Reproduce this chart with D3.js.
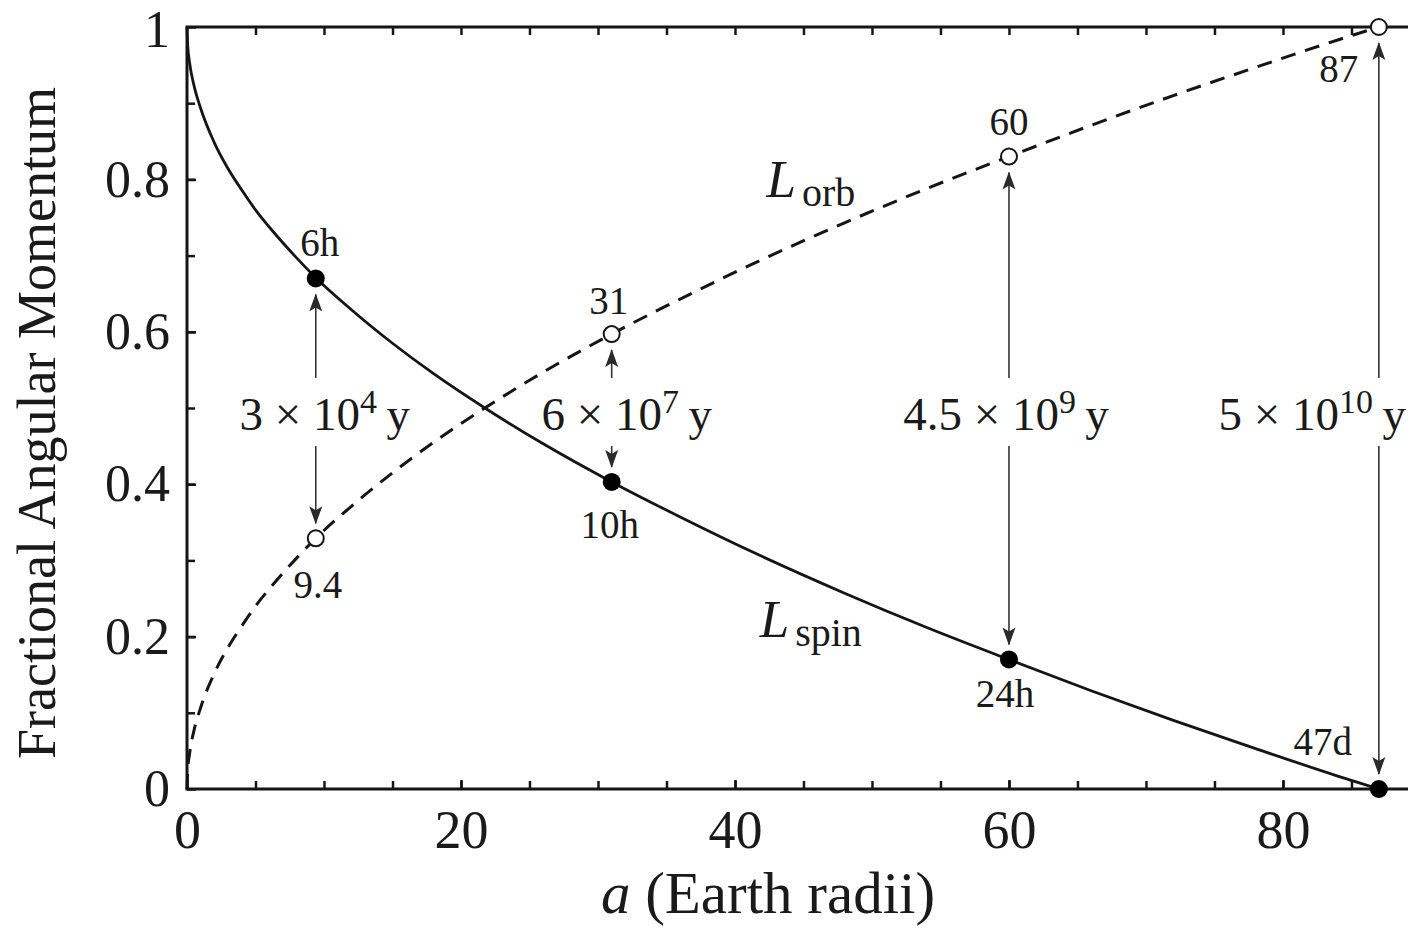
<!DOCTYPE html>
<html>
<head>
<meta charset="utf-8">
<script src="https://cdn.jsdelivr.net/npm/d3@7"></script>
<style>
  body { margin: 0; background: #fff; }
  text { font-family: "Liberation Serif", "Times New Roman", serif; fill: #1a1a1a; }
</style>
</head>
<body>
<svg id="chart" width="1408" height="928"></svg>
<script>
// semi-major axis samples (Earth radii) and the two curves
var aGrid = [0, 0.05, 0.2, 0.5, 1, 2, 3, 4, 5, 6.5, 8, 9.4, 12, 15, 18, 22, 26, 31, 36, 42, 48, 54, 60, 66, 72, 78, 84, 87]
var lSpin = [1, 0.976, 0.952, 0.924, 0.893, 0.848, 0.814, 0.786, 0.760, 0.727, 0.697, 0.671, 0.629, 0.585, 0.545, 0.497, 0.453, 0.403, 0.357, 0.305, 0.257, 0.212, 0.170, 0.129, 0.090, 0.053, 0.017, 0]
var lOrb  = [0, 0.024, 0.048, 0.076, 0.107, 0.152, 0.186, 0.214, 0.240, 0.273, 0.303, 0.329, 0.371, 0.415, 0.455, 0.503, 0.547, 0.597, 0.643, 0.695, 0.743, 0.788, 0.830, 0.871, 0.910, 0.947, 0.983, 1.0]

// marked epochs
var markA = [9.4, 31, 60, 87]
var markSpin = [0.670, 0.403, 0.170, 0]
var markOrb = [0.329, 0.597, 0.830, 1]
var spinLabels = ['6h', '10h', '24h', '47d']
var orbLabels = ['9.4', '31', '60', '87']
var timeMant = ['3', '6', '4.5', '5']
var timeExp = ['4', '7', '9', '10']

var xTicks = [0, 20, 40, 60, 80]
var yTicks = [0, 0.2, 0.4, 0.6, 0.8, 1]
var yTickLabels = ['0', '0.2', '0.4', '0.6', '0.8', '1']
var xMinor = d3.range(5, 90, 5)
var yMinor = d3.range(1, 10).map(function(d) { return d / 10 })

var svg = d3.select('#chart')
var plotL = 187, plotR = 1409, plotT = 27, plotB = 789

var x = d3.scaleLinear().domain([0, 89.2]).range([plotL, plotR])
var y = d3.scaleLinear().domain([0, 1]).range([plotB, plotT])

var ink = '#151515'

// curves
var line = d3.line().curve(d3.curveMonotoneX)
  .x(function(d) { return x(d[0]) })
  .y(function(d) { return y(d[1]) })

svg.append('path')
  .datum(aGrid.map(function(a, i) { return [a, lOrb[i]] }))
  .attr('d', line)
  .attr('fill', 'none')
  .attr('stroke', ink)
  .attr('stroke-width', 3)
  .attr('stroke-dasharray', '15,10')

svg.append('path')
  .datum(aGrid.map(function(a, i) { return [a, lSpin[i]] }))
  .attr('d', line)
  .attr('fill', 'none')
  .attr('stroke', ink)
  .attr('stroke-width', 2.8)

// axes: labelled ticks, inward minor ticks, frame
function styleAxis(g) {
  g.select('.domain').remove()
  g.selectAll('.tick line').attr('stroke', ink).attr('stroke-width', 2.5)
  g.selectAll('.tick text').style('font-size', '52px').attr('fill', '#1a1a1a')
}

svg.append('g')
  .attr('transform', 'translate(' + plotL + ',0)')
  .call(d3.axisLeft(y).tickValues(yTicks).tickSize(-9).tickPadding(17)
    .tickFormat(function(d, i) { return yTickLabels[i] }))
  .call(styleAxis)
  .selectAll('.tick text').attr('dy', function(d) { return d === 1 ? '0.38em' : '0.32em' })

svg.append('g')
  .attr('transform', 'translate(' + plotL + ',0)')
  .call(d3.axisLeft(y).tickValues(yMinor).tickSize(-8).tickFormat(''))
  .call(styleAxis)

svg.append('g')
  .attr('transform', 'translate(0,' + plotB + ')')
  .call(d3.axisBottom(x).tickValues(xTicks).tickSize(-9).tickPadding(21))
  .call(styleAxis)
  .selectAll('.tick text').style('font-size', '54px')

svg.append('g')
  .attr('transform', 'translate(0,' + plotB + ')')
  .call(d3.axisBottom(x).tickValues(xMinor).tickSize(-8).tickFormat(''))
  .call(styleAxis)

svg.append('g')
  .attr('transform', 'translate(0,' + plotT + ')')
  .call(d3.axisTop(x).tickValues(xMinor).tickSize(-8).tickFormat(''))
  .call(styleAxis)

svg.append('path')
  .attr('d', 'M1408,' + plotT + 'H' + plotL + 'V' + plotB + 'H1408')
  .attr('fill', 'none')
  .attr('stroke', ink)
  .attr('stroke-width', 3)

// axis titles
svg.append('text')
  .attr('transform', 'translate(55,423) rotate(-90)')
  .attr('text-anchor', 'middle')
  .style('font-size', '54px')
  .text('Fractional Angular Momentum')

var xt = svg.append('text')
  .attr('x', 768).attr('y', 913)
  .attr('text-anchor', 'middle')
  .style('font-size', '59px')
xt.append('tspan').style('font-style', 'italic').text('a')
xt.append('tspan').text(' (Earth radii)')

// arrows between the two marked states
svg.append('defs').append('marker')
  .attr('id', 'head')
  .attr('markerUnits', 'userSpaceOnUse')
  .attr('viewBox', '0 -7 18 14')
  .attr('refX', 17).attr('refY', 0)
  .attr('markerWidth', 18).attr('markerHeight', 14)
  .attr('orient', 'auto')
  .append('path')
  .attr('d', 'M0,-6.5L18,0L0,6.5L4,0Z')
  .attr('fill', '#2a2a2a')

var gapTop = 378, gapBottom = 446
markA.forEach(function(a, i) {
  var hi = Math.max(markSpin[i], markOrb[i])
  var lo = Math.min(markSpin[i], markOrb[i])
  svg.append('line')
    .attr('x1', x(a)).attr('x2', x(a))
    .attr('y1', gapTop).attr('y2', y(hi) + 16)
    .attr('stroke', '#333').attr('stroke-width', 1.6)
    .attr('marker-end', 'url(#head)')
  svg.append('line')
    .attr('x1', x(a)).attr('x2', x(a))
    .attr('y1', gapBottom).attr('y2', y(lo) - 15)
    .attr('stroke', '#333').attr('stroke-width', 1.6)
    .attr('marker-end', 'url(#head)')
})

// time labels
var timeShift = [9, 15, -3, 0]
markA.forEach(function(a, i) {
  var t = svg.append('text')
    .attr('x', i === 3 ? 1406 : x(a) + timeShift[i])
    .attr('y', 430)
    .attr('text-anchor', i === 3 ? 'end' : 'middle')
    .style('font-size', '47px')
  t.append('tspan').text(timeMant[i] + ' \u00d7 10')
  t.append('tspan').attr('dy', -17).style('font-size', '34px').text(timeExp[i])
  t.append('tspan').attr('dy', 17).text('\u2009y')
})

// markers
svg.selectAll('.spin')
  .data(markA)
  .join('circle')
  .attr('cx', function(d) { return x(d) })
  .attr('cy', function(d, i) { return y(markSpin[i]) })
  .attr('r', 9)
  .attr('fill', '#000')

svg.selectAll('.orb')
  .data(markA)
  .join('circle')
  .attr('cx', function(d) { return x(d) })
  .attr('cy', function(d, i) { return y(markOrb[i]) })
  .attr('r', 8)
  .attr('fill', '#fff')
  .attr('stroke', ink)
  .attr('stroke-width', 2)

// point labels
var spinOff = [[4, -22], [-2, 56], [-4, 48], [-56, -34]]
var orbOff = [[2, 60], [-3, -20], [0, -22], [-40, 55]]
markA.forEach(function(a, i) {
  svg.append('text')
    .attr('x', x(a) + spinOff[i][0]).attr('y', y(markSpin[i]) + spinOff[i][1])
    .attr('text-anchor', 'middle')
    .style('font-size', '39px')
    .text(spinLabels[i])
  svg.append('text')
    .attr('x', x(a) + orbOff[i][0]).attr('y', y(markOrb[i]) + orbOff[i][1])
    .attr('text-anchor', 'middle')
    .style('font-size', '39px')
    .text(orbLabels[i])
})

// curve names
function curveName(ax, ay, sub) {
  var t = svg.append('text').attr('x', x(ax)).attr('y', y(ay)).style('font-size', '53px')
  t.append('tspan').style('font-style', 'italic').text('L')
  t.append('tspan').attr('dx', 6).attr('dy', 9).style('font-size', '40px').text(sub)
}
curveName(42.3, 0.777, 'orb')
curveName(41.8, 0.2, 'spin')
</script>
</body>
</html>
